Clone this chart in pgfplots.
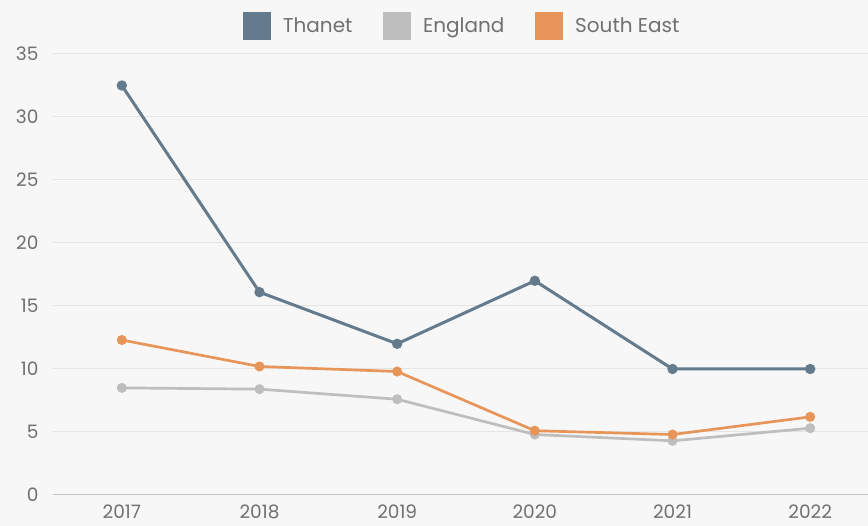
\documentclass[border=0pt]{standalone}
\usepackage{pgfplots}
\pgfplotsset{compat=1.18}
\usepackage{fontspec}
\setmainfont{Poppins}
\definecolor{bg}{HTML}{F7F7F7}
\definecolor{txt}{HTML}{707070}
\definecolor{gridc}{HTML}{E4E4E4}
\definecolor{thanet}{HTML}{647A8D}
\definecolor{england}{HTML}{BEBEBE}
\definecolor{southeast}{HTML}{E8955A}
\begin{document}
\begin{tikzpicture}[x=1pt,y=1pt]
\fill[bg] (0,0) rectangle (868,526);
\useasboundingbox (0,0) rectangle (868,526);
\begin{axis}[
  at={(53pt,31pt)}, anchor=south west,
  scale only axis, width=815pt, height=441pt,
  xmin=-0.5, xmax=5.42, ymin=0, ymax=35,
  xtick={0,1,2,3,4,5}, xticklabels={2017,2018,2019,2020,2021,2022},
  ytick={0,5,10,15,20,25,30,35},
  major tick length=0pt,
  axis y line*=left, axis x line*=bottom,
  y axis line style={draw=none},
  x axis line style={draw=gridc!85!black, line width=1pt, -},
  ymajorgrids, grid style={gridc, line width=1pt},
  /pgf/number format/assume math mode=true,
  tick label style={font=\fontsize{18.5}{20}\selectfont, text=txt},
  yticklabel style={anchor=east, xshift=-11pt},
  xticklabel style={yshift=-6pt},
  clip=false,
  legend style={draw=none, fill=none, at={(0.502,1.0)}, anchor=south, yshift=12pt,
    legend columns=3, font=\fontsize{20}{22}\selectfont, text=txt,
    /tikz/every even column/.append style={column sep=29pt}},
  legend cell align=left,
  legend image code/.code={\fill[#1] (0pt,-12.5pt) rectangle (25pt,12.5pt); \path (35pt,0pt);},
]
\addplot[thanet, line width=3pt, mark=*, mark size=3.6pt] coordinates {(0,32.5)(1,16.1)(2,12.0)(3,17.0)(4,10.0)(5,10.0)};
\addlegendentry{Thanet}
\addplot[england, line width=2.7pt, mark=*, mark size=3.6pt] coordinates {(0,8.5)(1,8.4)(2,7.6)(3,4.8)(4,4.3)(5,5.3)};
\addlegendentry{England}
\addplot[southeast, line width=2.7pt, mark=*, mark size=3.6pt] coordinates {(0,12.3)(1,10.2)(2,9.8)(3,5.1)(4,4.8)(5,6.2)};
\addlegendentry{South East}
\end{axis}
\end{tikzpicture}
\end{document}
